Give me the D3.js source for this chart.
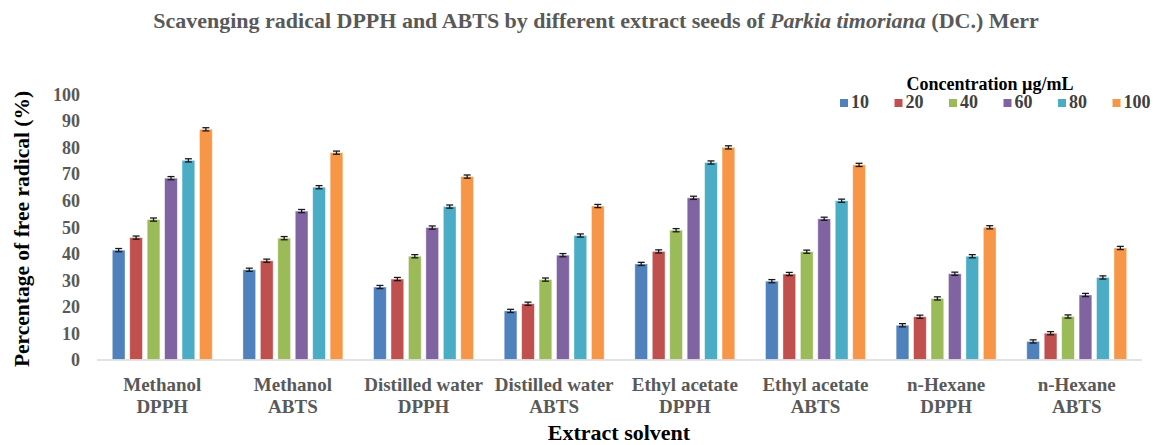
<!DOCTYPE html>
<html>
<head>
<meta charset="utf-8">
<script src="https://cdn.jsdelivr.net/npm/d3@7"></script>
<style>
  body { margin: 0; background: #fff; }
  text { font-family: "Liberation Serif", "Times New Roman", serif; font-weight: bold; }
</style>
</head>
<body>
<div id="chart"></div>
<script>
// categories and series
var groups = ["Methanol|DPPH", "Methanol|ABTS", "Distilled water|DPPH", "Distilled water|ABTS",
              "Ethyl acetate|DPPH", "Ethyl acetate|ABTS", "n-Hexane|DPPH", "n-Hexane|ABTS"];
var concentrations = ["10", "20", "40", "60", "80", "100"];
var colors = ["#4F81BD", "#C0504D", "#9BBB59", "#8064A2", "#4BACC6", "#F79646"];

// one array per concentration, values for each group in order
var c10  = [41.2, 33.8, 27.3, 18.3, 36.0, 29.5, 12.9, 6.8];
var c20  = [45.9, 37.2, 30.3, 21.0, 40.7, 32.2, 16.1, 9.9];
var c40  = [52.7, 45.7, 38.9, 30.1, 48.7, 40.6, 23.0, 16.2];
var c60  = [68.3, 55.9, 49.7, 39.3, 60.9, 53.0, 32.3, 24.3];
var c80  = [75.0, 64.9, 57.6, 46.7, 74.2, 59.8, 38.9, 30.9];
var c100 = [86.7, 77.9, 68.9, 57.8, 79.9, 73.3, 49.8, 42.0];
var errs = [0.6, 0.6, 0.6, 0.6, 0.6, 0.6];
var series = [c10, c20, c40, c60, c80, c100];

var yTicks = [0, 10, 20, 30, 40, 50, 60, 70, 80, 90, 100];

var W = 1156, H = 445;
var svg = d3.select("#chart").append("svg").attr("width", W).attr("height", H);

var plotLeft = 97, plotRight = 1142, plotTop = 94, plotBottom = 359.5;

var x0 = d3.scaleBand().domain(groups).range([plotLeft, plotRight]).paddingInner(0.235).paddingOuter(0.117);
var x1 = d3.scaleBand().domain(concentrations).range([0, x0.bandwidth()]).paddingInner(0.27);
var y = d3.scaleLinear().domain([0, 100]).range([plotBottom, plotTop]);

//title
var title = svg.append("text").attr("x", 596).attr("y", 28).attr("text-anchor", "middle")
    .attr("fill", "#595959").style("font-size", "22px");
title.append("tspan").text("Scavenging radical DPPH and ABTS by different extract seeds of ");
title.append("tspan").style("font-style", "italic").text("Parkia timoriana");
title.append("tspan").text(" (DC.) Merr");

//y axis (labels only)
var yaxis = d3.axisLeft(y).tickValues(yTicks).tickSize(0).tickPadding(0);
var gy = svg.append("g").attr("transform", "translate(80,0)").call(yaxis);
gy.select(".domain").remove();
gy.selectAll("text").attr("fill", "#595959").style("font-size", "18px")
    .style("font-family", "Liberation Serif, serif").style("font-weight", "bold").attr("dy", "0.35em");

svg.append("text").attr("transform", "translate(29,229) rotate(-90)").attr("text-anchor", "middle")
    .attr("fill", "#000").style("font-size", "21.5px").text("Percentage of free radical (%)");

//bars
var data = [];
groups.forEach(function(g, i){
  concentrations.forEach(function(c, j){
    data.push({group: g, conc: c, value: series[j][i], err: errs[j], color: colors[j]});
  });
});

var bars = svg.append("g");
bars.selectAll("rect").data(data).join("rect")
    .attr("x", function(d){ return x0(d.group) + x1(d.conc); })
    .attr("y", function(d){ return y(d.value); })
    .attr("width", x1.bandwidth())
    .attr("height", function(d){ return y(0) - y(d.value); })
    .attr("fill", function(d){ return d.color; })
    .attr("stroke", "#ffffff").attr("stroke-opacity", 0.5).attr("stroke-width", 0.8);

//error bars
var eb = svg.append("g").attr("stroke", "#1a1a1a").attr("stroke-width", 1.3);
eb.selectAll("g").data(data).join("g").each(function(d){
  var cx = x0(d.group) + x1(d.conc) + x1.bandwidth() / 2;
  var sel = d3.select(this);
  sel.append("line").attr("x1", cx).attr("x2", cx).attr("y1", y(d.value + d.err)).attr("y2", y(d.value - d.err));
  sel.append("line").attr("x1", cx - 3.5).attr("x2", cx + 3.5).attr("y1", y(d.value + d.err)).attr("y2", y(d.value + d.err));
  sel.append("line").attr("x1", cx - 3.5).attr("x2", cx + 3.5).attr("y1", y(d.value - d.err)).attr("y2", y(d.value - d.err));
});

//baseline
svg.append("line").attr("x1", plotLeft).attr("x2", plotRight).attr("y1", y(0) + 0.5).attr("y2", y(0) + 0.5)
    .attr("stroke", "#d9d9d9").attr("stroke-width", 1.5);

//x labels
var xaxis = d3.axisBottom(x0).tickSize(0).tickFormat("");
var gx = svg.append("g").attr("transform", "translate(0," + plotBottom + ")").call(xaxis);
gx.select(".domain").remove();
gx.selectAll(".tick").each(function(d){
  var parts = d.split("|");
  var t = d3.select(this).append("text").attr("text-anchor", "middle").attr("fill", "#595959")
      .style("font-size", "19px");
  t.append("tspan").attr("x", 0).attr("y", 31).text(parts[0]);
  t.append("tspan").attr("x", 0).attr("y", 53).text(parts[1]);
});

svg.append("text").attr("x", 619).attr("y", 440).attr("text-anchor", "middle").attr("fill", "#000")
    .style("font-size", "22px").text("Extract solvent");

//legend
svg.append("text").attr("x", 990).attr("y", 90).attr("text-anchor", "middle").attr("fill", "#000")
    .style("font-size", "18px").text("Concentration \u00b5g/mL");

var leg = svg.append("g").selectAll("g").data(concentrations).join("g")
    .attr("transform", function(d, i){ return "translate(" + (840 + i * 54.5) + ",108)"; });
leg.append("rect").attr("x", 0).attr("y", -9).attr("width", 8).attr("height", 8)
    .attr("fill", function(d, i){ return colors[i]; });
leg.append("text").attr("x", 11).attr("y", 0).attr("fill", "#404040").style("font-size", "18px")
    .text(function(d){ return d; });
</script>
</body>
</html>
